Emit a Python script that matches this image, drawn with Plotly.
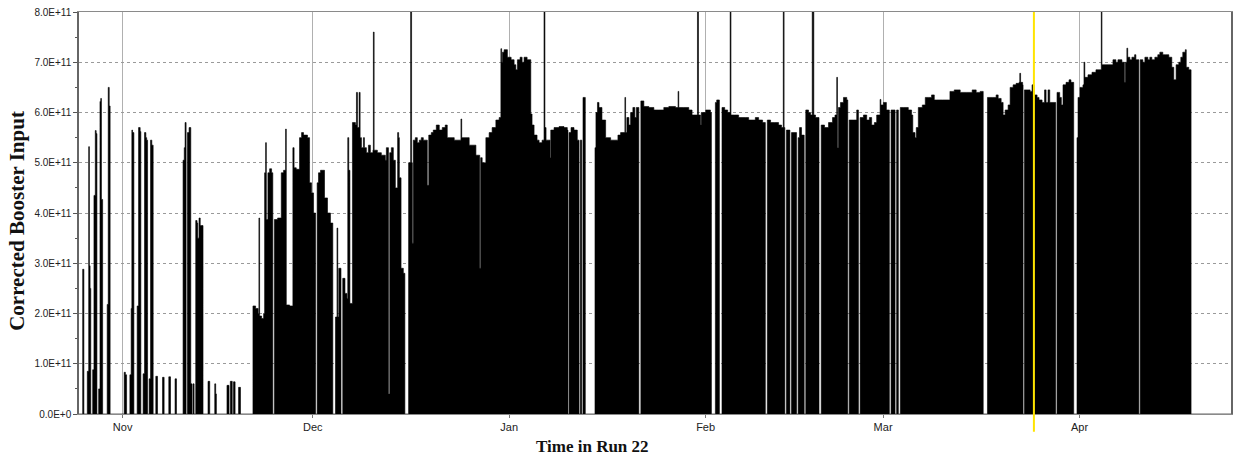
import pandas as pd
import plotly.graph_objects as go

RUN_START = "2021-11-01"          # day 0 of the offsets below
SCALE = 1e11                      # values are given in units of 1E+11

# ---- late October / November : isolated stores ---------------------------------
oct_nov_day = [-6.9, -6.30, -6.11, -5.57, -5.35, -5.24, -5.13, -5.02, -4.72, -4.52, -4.31, -4.17, -4.05,
               -3.78, -3.57, -3.45, -3.34, -3.15, -2.43, -2.27, -2.11, -1.97, 0.25, 0.44, 0.63,
               1.15, 1.35, 1.46, 1.57, 1.78, 2.30, 2.52, 2.77, 2.88, 3.24, 3.46, 3.67, 3.80, 3.94,
               4.19, 4.41, 4.61, 4.82, 5.24, 5.51, 6.30, 6.55, 7.29, 7.56, 8.28, 8.50,
               9.54, 9.73, 9.86, 10.02, 10.24, 10.49, 10.76, 10.96, 11.12, 11.28,
               11.54, 11.75, 11.86, 12.06, 12.25, 12.44, 12.69, 13.48, 13.75, 14.54, 14.69, 14.80,
               16.47, 16.79, 17.0, 17.3, 17.5, 17.75, 18.3, 18.6]
oct_nov_val = [0, 2.88, 0, 0.85, 5.32, 2.95, 2.5, 0, 0.88, 4.35, 5.64, 5.58, 0,
               0.5, 6.22, 6.28, 4.27, 0, 2.18, 6.5, 6.13, 0, 0.83, 0.78, 0,
               0.78, 2.1, 5.65, 5.6, 0, 2.15, 5.7, 5.62, 0, 0.8, 5.6, 5.5, 5.45, 0,
               0.7, 5.45, 5.35, 0, 0.75, 0, 0.73, 0, 0.74, 0, 0.7, 0,
               5.05, 5.3, 5.8, 0, 5.6, 5.7, 0.6, 0, 0.6, 0,
               3.85, 3.8, 3.5, 3.9, 3.75, 3.75, 0, 0.65, 0, 0.6, 0.4, 0,
               0.57, 0, 0.65, 0, 0.64, 0, 0.53, 0]

# ---- late November / December -----------------------------------------------------
dec_day = [20.57, 20.99, 21.39, 21.51, 21.62, 21.94, 22.25, 22.41, 22.57, 22.68, 22.93, 23.20, 23.51,
           23.70, 23.95, 24.46, 25.04, 25.40, 25.72, 25.83, 26.35, 26.87, 27.06, 27.40, 27.92,
           28.24, 28.55, 29.18, 29.50, 29.81, 30.13, 30.45, 30.70, 30.91, 31.23, 31.54, 31.86,
           32.33, 32.80, 33.17, 33.59, 33.83, 33.95, 34.11, 34.46, 34.74, 35.09, 35.40, 35.53,
           35.69, 35.87, 36.27, 36.74, 36.90, 37.06, 37.32, 37.48, 37.69, 38.00, 38.16, 38.47,
           38.79, 39.10, 39.50, 39.57, 39.69, 40.20, 40.83, 41.46, 41.62, 41.95, 42.15, 42.41,
           42.72, 43.04, 43.40, 43.56, 43.67, 43.94, 44.30, 44.54, 45.13, 45.45, 45.60, 45.72,
           45.87, 46.19, 46.50, 46.82, 47.13, 47.45, 47.76, 48.08, 48.31, 48.71, 49.02, 49.50,
           49.97, 50.44, 50.91, 51.23, 52.33, 53.39, 53.51, 54.69, 55.75, 56.35, 56.50, 56.74,
           57.32, 57.84, 58.31, 58.90, 59.42, 59.69, 59.81, 59.94, 60.20]
dec_val = [2.15, 2.1, 2.0, 3.9, 1.95, 1.9, 2.0, 4.8, 5.4, 3.87, 4.8, 4.88, 4.8,
           0, 3.87, 3.9, 4.8, 4.85, 5.67, 2.17, 2.15, 5.3, 4.9, 4.87, 5.5,
           5.6, 5.55, 5.5, 4.6, 4.4, 4.0, 0, 4.6, 4.8, 4.85, 4.85, 4.3,
           4.0, 3.8, 0, 1.93, 3.7, 1.93, 2.9, 0, 2.7, 2.4, 2.3, 5.5,
           4.85, 2.2, 5.8, 5.75, 6.4, 5.7, 6.4, 5.5, 5.3, 5.5, 5.3, 5.2,
           5.35, 5.2, 5.25, 7.6, 5.25, 5.2, 5.15, 5.05, 5.3, 0.4, 5.2, 5.3,
           5.05, 4.5, 5.6, 5.5, 4.7, 2.9, 2.8, 0, 5.0, 8.0, 5.0, 3.4,
           5.45, 5.5, 5.4, 5.45, 5.5, 5.45, 5.45, 4.55, 5.55, 5.6, 5.65, 5.75,
           5.65, 5.7, 5.75, 5.5, 5.45, 5.87, 5.5, 5.35, 5.15, 2.9, 5.1, 5.0,
           5.5, 5.6, 5.7, 5.85, 5.9, 7.27, 7.0, 7.2, 7.25]

# ---- January ------------------------------------------------------------------------
jan_day = [60.72, 61.31, 61.78, 62.05, 62.30, 62.72, 63.04, 63.35, 63.83, 64.41, 64.61, 64.93,
           65.40, 65.72, 66.19, 66.50, 66.64, 66.82, 67.13, 67.45, 67.56, 68.08, 68.87, 69.65,
           70.17, 70.28, 70.45, 70.76, 71.23, 71.75, 72.02, 72.22, 72.45, 72.65, 73.01, 74.54,
           74.69, 74.93, 75.17, 75.64, 76.22, 77.01, 77.69, 78.16, 78.58, 79.26, 79.37, 79.57,
           79.89, 80.16, 80.52, 80.83, 81.07, 81.46, 81.78, 82.25, 83.04, 83.83, 84.61, 85.40,
           86.19, 87.24, 87.65, 87.76, 88.55, 89.34, 89.86, 90.71, 90.87, 91.18, 91.31]
jan_val = [7.1, 7.05, 6.95, 6.85, 7.05, 7.1, 7.0, 7.1, 7.05, 5.97, 5.75, 5.55,
           5.45, 5.4, 5.45, 8.0, 5.7, 5.45, 5.45, 5.1, 5.65, 5.7, 5.72, 5.7,
           5.65, 0, 5.6, 5.7, 5.65, 5.45, 0, 5.45, 0, 6.3, 0, 5.3,
           6.0, 6.2, 6.1, 5.85, 5.5, 5.45, 5.45, 5.55, 5.6, 6.3, 5.6, 5.9,
           5.75, 6.0, 6.1, 5.9, 6.1, 0, 6.23, 6.12, 6.1, 6.05, 6.05, 6.1,
           6.12, 6.1, 6.42, 6.1, 6.1, 6.05, 5.95, 8.0, 5.95, 5.75, 6.0]

# ---- February -----------------------------------------------------------------------
feb_day = [92.02, 92.76, 92.91, 93.54, 93.75, 94.17, 94.58, 95.01, 95.48, 95.87, 96.00, 96.58,
           97.21, 98.27, 98.79, 99.84, 100.36, 100.99, 101.42, 101.73, 102.25, 102.88, 103.51,
           103.98, 104.25, 104.38, 104.50, 104.75, 105.30, 105.55, 106.35, 106.60, 106.82,
           107.13, 107.55, 107.80, 108.24, 108.55, 108.82, 109.07, 109.34, 109.89, 110.24,
           110.76, 111.39, 112.02, 112.41, 112.69, 112.80, 112.96, 113.28, 113.75, 114.27,
           114.43, 114.65, 115.32, 115.84, 116.11, 116.38, 116.90, 117.42, 117.84, 118.20,
           118.63, 118.99, 119.53, 119.65]
feb_val = [6.05, 6.0, 0, 6.2, 6.25, 0, 6.1, 6.05, 6.0, 8.0, 5.95, 5.95,
           5.9, 5.9, 5.85, 5.9, 5.85, 5.8, 0, 5.85, 5.8, 5.8, 5.75,
           5.7, 8.0, 5.7, 0, 5.65, 0, 5.6, 0, 5.5, 5.7,
           5.55, 0, 6.05, 6.0, 5.95, 8.0, 5.95, 5.9, 0, 5.75,
           5.7, 5.8, 5.9, 5.95, 6.7, 5.3, 6.1, 6.2, 6.3, 6.25,
           0, 5.85, 5.85, 6.05, 0, 5.9, 5.95, 5.85, 5.9, 5.75,
           5.8, 5.95, 6.26, 6.15]

# ---- March --------------------------------------------------------------------------
mar_day = [120.05, 120.52, 120.99, 121.26, 121.89, 122.14, 122.41, 122.72, 123.20, 123.98, 124.50,
           124.69, 125.04, 125.24, 125.56, 126.19, 126.66, 127.13, 127.65, 128.08, 128.44, 129.34,
           130.28, 130.55, 131.23, 132.17, 133.12, 134.06, 134.69, 135.32, 135.80, 136.47, 137.21,
           137.84, 138.16, 138.63, 138.94, 139.26, 139.73, 140.05, 140.52, 140.99, 141.46, 141.57,
           141.70, 142.02, 142.09, 142.30, 142.72, 143.20, 143.51, 143.83, 144.30, 144.61, 145.09,
           145.48, 145.72, 146.03, 146.30, 146.66, 147.24, 147.45, 147.87, 148.13, 148.39, 148.87,
           149.34, 149.65, 150.08, 150.60, 150.76]
mar_val = [6.2, 6.05, 0, 6.05, 0, 6.05, 0, 6.1, 6.1, 6.05, 5.95,
           5.6, 5.5, 5.7, 6.1, 6.15, 6.3, 6.3, 6.35, 6.25, 6.25, 6.25,
           6.25, 6.42, 6.45, 6.4, 6.4, 6.45, 6.4, 6.42, 0, 6.3, 6.3,
           6.35, 6.28, 6.2, 5.95, 6.05, 6.15, 6.5, 6.55, 6.58, 6.6, 6.78,
           6.6, 6.55, 0, 6.45, 6.45, 6.42, 6.55, 6.35, 6.3, 6.25, 6.2,
           6.45, 6.2, 6.45, 6.2, 6.2, 0, 6.4, 6.3, 6.15, 6.55, 6.6,
           6.65, 6.6, 0, 5.5, 6.3]

# ---- April --------------------------------------------------------------------------
apr_day = [151.07, 151.54, 151.70, 151.83, 152.33, 152.96, 153.59, 154.06, 154.43, 154.54, 155.17,
           156.00, 156.27, 156.74, 157.06, 157.69, 158.08, 158.24, 158.47, 158.60, 158.94, 159.26,
           159.69, 159.89, 160.36, 160.57, 160.99, 161.31, 161.78, 162.09, 162.41, 162.88, 163.35,
           163.67, 164.14, 164.61, 165.09, 165.56, 165.87, 166.24, 166.66, 166.98, 167.29, 167.69,
           167.84, 168.24, 168.60, 174.9]
apr_val = [6.5, 6.55, 7.0, 6.7, 6.75, 6.8, 6.85, 6.85, 8.0, 6.95, 6.95,
           6.95, 7.05, 7.0, 7.05, 7.0, 6.6, 7.0, 7.28, 7.1, 7.05, 7.1,
           7.15, 7.05, 0, 7.05, 7.0, 7.1, 7.05, 7.1, 7.05, 7.1, 7.15,
           7.2, 7.15, 7.15, 7.1, 6.9, 6.65, 6.95, 7.0, 7.1, 7.2, 7.25,
           6.9, 6.85, 0, 0]

marker_day = 143.8                     # yellow marker line (late March)
x_range_days = [-6.88, 174.9]

month_ticks = ["2021-11-01", "2021-12-01", "2022-01-01", "2022-02-01", "2022-03-01", "2022-04-01"]
month_labels = ["Nov", "Dec", "Jan", "Feb", "Mar", "Apr"]
y_tick_units = [0, 1, 2, 3, 4, 5, 6, 7, 8]
y_tick_labels = ["0.0E+0", "1.0E+11", "2.0E+11", "3.0E+11", "4.0E+11",
                 "5.0E+11", "6.0E+11", "7.0E+11", "8.0E+11"]

# ------------------------------------------------------------------------------------
start = pd.Timestamp(RUN_START)


def to_time(days):
    return [start + pd.to_timedelta(d, unit="D") for d in days]


all_day = oct_nov_day + dec_day + jan_day + feb_day + mar_day + apr_day
all_val = oct_nov_val + dec_val + jan_val + feb_val + mar_val + apr_val

fig = go.Figure()
fig.add_trace(go.Scatter(
    x=to_time(all_day),
    y=[v * SCALE for v in all_val],
    mode="lines",
    line=dict(color="black", width=0.6, shape="hv"),
    fill="tozeroy",
    fillcolor="black",
    hoverinfo="skip",
    showlegend=False,
))

marker_t = to_time([marker_day])[0]
fig.add_shape(type="line", xref="x", yref="paper",
              x0=marker_t, x1=marker_t, y0=-0.044, y1=1.0,
              line=dict(color="#FFE400", width=2), layer="above")

tick_font = dict(family="Liberation Sans, Arial, sans-serif", size=10, color="#222222")
title_font = dict(family="Liberation Serif, Times New Roman, serif", color="#111111")

fig.update_layout(
    width=1239, height=458,
    margin=dict(l=79, r=6, t=6, b=44),
    paper_bgcolor="white",
    plot_bgcolor="white",
    showlegend=False,
    xaxis=dict(
        type="date",
        range=to_time(x_range_days),
        tickvals=month_ticks,
        ticktext=month_labels,
        tickfont=dict(family="Liberation Sans, Arial, sans-serif", size=11, color="#222222"),
        showgrid=True, gridcolor="#b0b0b0", gridwidth=1,
        ticks="outside", ticklen=3, tickcolor="#777777",
        showline=True, linecolor="#8a8a8a", linewidth=1, mirror=True,
        zeroline=False,
    ),
    yaxis=dict(
        range=[0, 8 * SCALE],
        tickvals=[v * SCALE for v in y_tick_units],
        ticktext=y_tick_labels,
        tickfont=tick_font,
        showgrid=True, gridcolor="#9a9a9a", gridwidth=1, griddash="dot",
        ticks="outside", ticklen=4, tickcolor="#555555",
        minor=dict(dtick=0.5 * SCALE, ticks="outside", ticklen=2, tickcolor="#555555", showgrid=False),
        showline=True, linecolor="#666666", linewidth=1.5, mirror=True,
        zeroline=False,
    ),
    annotations=[
        dict(text="<b>Corrected Booster Input</b>", xref="paper", yref="paper",
             x=-0.054, y=0.48, xanchor="center", yanchor="middle", textangle=-90,
             showarrow=False, font=dict(size=21, **title_font)),
        dict(text="<b>Time in Run 22</b>", xref="paper", yref="paper",
             x=0.446, y=-0.081, xanchor="center", yanchor="middle",
             showarrow=False, font=dict(size=17, **title_font)),
    ],
)

fig.write_html("out.html")
